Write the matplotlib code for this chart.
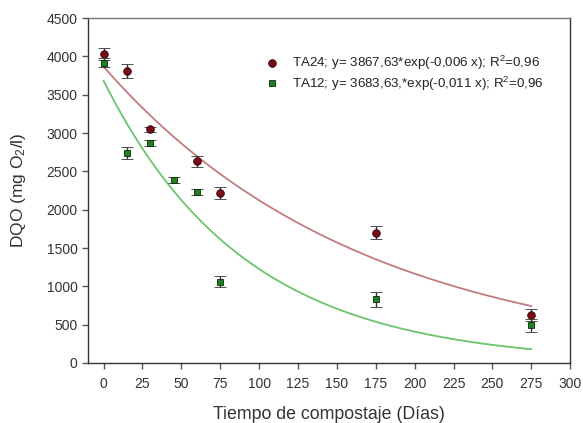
import numpy as np
import matplotlib
matplotlib.use("Agg")
import matplotlib.pyplot as plt
from matplotlib.lines import Line2D

plt.rcParams['font.family'] = ['Liberation Sans', 'DejaVu Sans']
plt.rcParams['mathtext.fontset'] = 'custom'
plt.rcParams['mathtext.rm'] = 'Liberation Sans'
plt.rcParams['mathtext.it'] = 'Liberation Sans:italic'

# Composting time (days) and COD measurements (mg O2/l)
dias_ta24 = [0, 15, 30, 60, 75, 175, 275]
dqo_ta24 = [4030, 3810, 3050, 2630, 2220, 1700, 630]
err_ta24 = [80, 90, 35, 70, 80, 87, 80]

dias_ta12 = [0, 15, 30, 45, 60, 75, 175, 275]
dqo_ta12 = [3920, 2740, 2870, 2390, 2230, 1060, 830, 490]
err_ta12 = [60, 80, 40, 40, 40, 70, 100, 87]

# Exponential fit parameters: y = a * exp(b * x)
fit_ta24 = (3867.63, -0.006)
fit_ta12 = (3683.63, -0.011)

x_ticks = list(range(0, 301, 25))
y_ticks = list(range(0, 4501, 500))

fig = plt.figure(figsize=(5.83, 4.23), dpi=100)
ax = fig.add_axes([0.151, 0.142, 0.827, 0.815])

xf = np.linspace(0, 275, 300)
ax.plot(xf, fit_ta24[0] * np.exp(fit_ta24[1] * xf), color='#c27c7c', lw=1.3, zorder=2)
ax.plot(xf, fit_ta12[0] * np.exp(fit_ta12[1] * xf), color='#6cc46c', lw=1.3, zorder=2)

ax.errorbar(dias_ta24, dqo_ta24, yerr=err_ta24, fmt='o', ms=5.5,
            mfc='#7a0a14', mec='#2a0a0a', mew=0.6, ecolor='#333333',
            elinewidth=1.0, capsize=4, capthick=1.0, zorder=3)
ax.errorbar(dias_ta12, dqo_ta12, yerr=err_ta12, fmt='s', ms=5,
            mfc='#1f7f22', mec='#0a2a0a', mew=0.6, ecolor='#333333',
            elinewidth=1.0, capsize=4, capthick=1.0, zorder=4)

ax.set_xlim(-10, 300)
ax.set_ylim(0, 4500)
ax.set_xticks(x_ticks)
ax.set_yticks(y_ticks)
ax.tick_params(axis='both', direction='out', length=4, width=1.0,
               colors='#555555', labelcolor='#333333', labelsize=10)
ax.tick_params(axis='x', pad=6)

for side in ['left', 'bottom', 'right']:
    ax.spines[side].set_color('#333333')
ax.spines['top'].set_color('#777777')
for s in ax.spines.values():
    s.set_linewidth(1.0)

ax.set_xlabel('Tiempo de compostaje (Días)', fontsize=12.8, color='#333333', labelpad=11)
ax.set_ylabel('DQO (mg O$_2$/l)', fontsize=12.5, color='#333333', labelpad=13)

handles = [
    Line2D([], [], ls='none', marker='o', ms=5.5, mfc='#7a0a14', mec='#2a0a0a', mew=0.6),
    Line2D([], [], ls='none', marker='s', ms=5, mfc='#1f7f22', mec='#0a2a0a', mew=0.6),
]
labels = [
    'TA24; y= 3867,63*exp(-0,006 x); R$^2$=0,96',
    'TA12; y= 3683,63,*exp(-0,011 x); R$^2$=0,96',
]
leg = ax.legend(handles, labels, loc='upper left', bbox_to_anchor=(0.343, 0.911),
                frameon=False, fontsize=9.6, handletextpad=0.5, labelspacing=0.15,
                borderaxespad=0)
for t in leg.get_texts():
    t.set_color('#222222')

fig.savefig('out.png', dpi=100)
